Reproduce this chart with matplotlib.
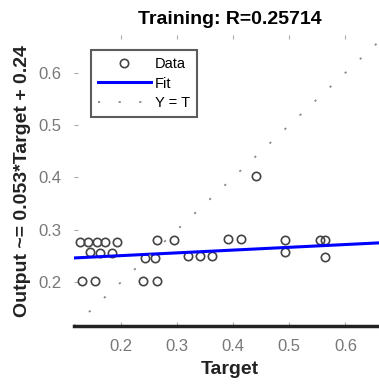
import matplotlib
matplotlib.use("Agg")
import matplotlib.pyplot as plt
import numpy as np

plt.rcParams['font.family'] = ['Liberation Sans', 'DejaVu Sans']

# training targets and network outputs
target = [0.127, 0.141, 0.157, 0.171, 0.193, 0.145, 0.163, 0.184,
          0.264, 0.295, 0.243, 0.261, 0.320, 0.341, 0.363, 0.391,
          0.413, 0.493, 0.493, 0.555, 0.564, 0.563, 0.441,
          0.130, 0.154, 0.239, 0.264]
output = [0.276, 0.276, 0.276, 0.276, 0.276, 0.257, 0.255, 0.255,
          0.280, 0.280, 0.246, 0.246, 0.250, 0.250, 0.250, 0.282,
          0.282, 0.280, 0.257, 0.280, 0.280, 0.248, 0.402,
          0.202, 0.202, 0.202, 0.202]
fit_slope = 0.053
fit_offset = 0.24
r_value = 0.25714
lims = [0.116, 0.672]
ticks = [0.2, 0.3, 0.4, 0.5, 0.6]

fig = plt.figure(figsize=(3.79, 3.85), dpi=100)
ax = fig.add_axes([0.195, 0.153, 0.823, 0.756])

ax.plot(target, output, 'o', mfc='none', mec='#444444', ms=6, mew=1.2, label='Data')
xs = np.array(lims)
ax.plot(xs, fit_slope * xs + fit_offset, '-', color='#0000ff', lw=2.2, label='Fit')
ax.plot(xs, xs, color='#888888', lw=1.3, dashes=(1.2, 10.2), label='Y = T')

ax.set_xlim(lims)
ax.set_ylim(lims)
ax.set_xticks(ticks)
ax.set_yticks(ticks)
ax.tick_params(direction='in', length=3, colors='#aaaaaa', labelcolor='#777777',
               labelsize=12, top=True, right=True, pad=9)
for s in ['top', 'left', 'right']:
    ax.spines[s].set_visible(False)
ax.spines['bottom'].set_color('#222222')
ax.spines['bottom'].set_linewidth(2.5)

ax.set_title('Training: R=%.5f' % r_value, fontsize=14, fontweight='bold', pad=8)
ax.set_xlabel('Target', fontsize=14, fontweight='bold', color='#222222', labelpad=5)
ax.set_ylabel('Output ~= %.3g*Target + %.2g' % (fit_slope, fit_offset),
              fontsize=14, fontweight='bold', color='#222222', labelpad=5)

leg = ax.legend(loc='upper left', bbox_to_anchor=(0.054, 0.948), borderaxespad=0,
                fontsize=10.5, frameon=True, fancybox=False, handlelength=3.6,
                borderpad=0.5, labelspacing=0.35, handletextpad=0.3)
leg.get_frame().set_edgecolor('#333333')
leg.get_frame().set_linewidth(1.5)

fig.savefig('out.png', dpi=100)
